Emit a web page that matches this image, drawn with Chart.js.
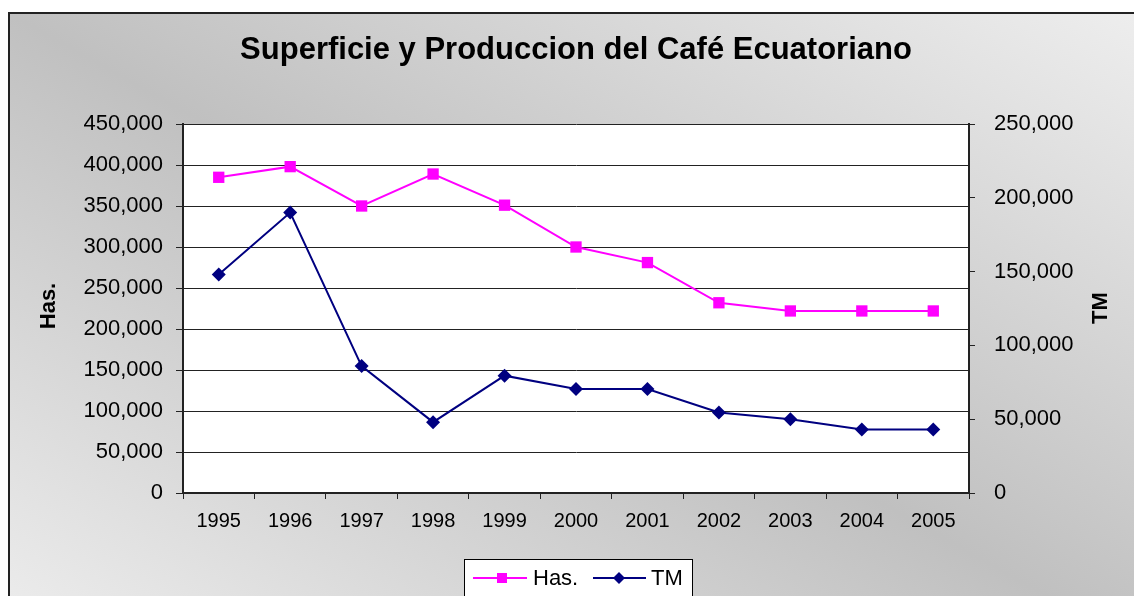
<!DOCTYPE html>
<html>
<head>
<meta charset="utf-8">
<title>Superficie y Produccion del Café Ecuatoriano</title>
<script src="https://cdn.jsdelivr.net/npm/chart.js@4.4.0/dist/chart.umd.min.js"></script>
<style>
  html, body { margin: 0; padding: 0; background: #fff; overflow: hidden; }
  #frame {
    position: absolute; left: 8px; top: 12px; width: 1140px; height: 640px;
    border: 2px solid #222;
    background: linear-gradient(to top right, #efefef 0%, #c0c0c0 50%, #eeeeee 100%);
  }
  #wrap { position: absolute; left: 0; top: 0; width: 1134px; height: 596px; }
</style>
</head>
<body>
<div id="frame"></div>
<div id="wrap"><canvas id="cafeChart" width="1134" height="596"></canvas></div>
<script>
// Chart data
const years = ["1995", "1996", "1997", "1998", "1999", "2000", "2001", "2002", "2003", "2004", "2005"];
const hectareas = [385000, 398000, 350000, 389000, 351000, 300000, 281000, 232000, 222000, 222000, 222000];
const toneladas = [148000, 190000, 86000, 48000, 79500, 70500, 70500, 54500, 50000, 43000, 43000];
const hasTicks = [0, 50000, 100000, 150000, 200000, 250000, 300000, 350000, 400000, 450000];
const tmTicks = [0, 50000, 100000, 150000, 200000, 250000];

const FONT = "'Liberation Sans', Arial, sans-serif";
const INK = "#222";

function fmt(v) {
  return Number(v).toLocaleString("en-US");
}

// white plot area, axis titles and the boxed legend
const decor = {
  id: "decor",
  beforeDraw(chart) {
    const { ctx, chartArea } = chart;
    ctx.save();
    ctx.fillStyle = "#fff";
    ctx.fillRect(chartArea.left, chartArea.top, chartArea.right - chartArea.left, chartArea.bottom - chartArea.top);
    ctx.restore();
  },
  afterDraw(chart) {
    const ctx = chart.ctx;
    ctx.save();
    ctx.fillStyle = "#000";
    ctx.font = "bold 22px " + FONT;
    ctx.textAlign = "center";
    ctx.textBaseline = "middle";
    ctx.save();
    ctx.translate(49, 306);
    ctx.rotate(-Math.PI / 2);
    ctx.fillText("Has.", 0, 0);
    ctx.restore();
    ctx.save();
    ctx.translate(1101, 308);
    ctx.rotate(-Math.PI / 2);
    ctx.fillText("TM", 0, 0);
    ctx.restore();

    // legend
    const lx = 464, ly = 559, lw = 228, lh = 50;
    ctx.fillStyle = "#fff";
    ctx.fillRect(lx, ly, lw, lh);
    ctx.strokeStyle = "#000";
    ctx.lineWidth = 1;
    ctx.strokeRect(lx + 0.5, ly + 0.5, lw, lh);

    const cy = 578;
    ctx.lineWidth = 2;
    ctx.strokeStyle = "#ff00ff";
    ctx.beginPath();
    ctx.moveTo(473, cy);
    ctx.lineTo(527, cy);
    ctx.stroke();
    ctx.fillStyle = "#ff00ff";
    ctx.fillRect(497, cy - 5, 10, 10);

    ctx.strokeStyle = "#000080";
    ctx.beginPath();
    ctx.moveTo(593, cy);
    ctx.lineTo(646, cy);
    ctx.stroke();
    ctx.fillStyle = "#000080";
    ctx.beginPath();
    ctx.moveTo(619, cy - 6);
    ctx.lineTo(625, cy);
    ctx.lineTo(619, cy + 6);
    ctx.lineTo(613, cy);
    ctx.closePath();
    ctx.fill();

    ctx.fillStyle = "#000";
    ctx.font = "22px " + FONT;
    ctx.textAlign = "left";
    ctx.fillText("Has.", 533, cy + 1);
    ctx.fillText("TM", 651, cy + 1);
    ctx.restore();
  },
};

const chart = new Chart(document.getElementById("cafeChart"), {
  type: "line",
  data: {
    labels: years,
    datasets: [
      {
        label: "Has.",
        data: hectareas,
        yAxisID: "y",
        borderColor: "#ff00ff",
        backgroundColor: "#ff00ff",
        borderWidth: 2,
        pointStyle: "rect",
        pointRadius: 8,
        pointBorderWidth: 0,
        tension: 0,
      },
      {
        label: "TM",
        data: toneladas,
        yAxisID: "y1",
        borderColor: "#000080",
        backgroundColor: "#000080",
        borderWidth: 2,
        pointStyle: "rectRot",
        pointRadius: 7,
        pointBorderWidth: 0,
        tension: 0,
      },
    ],
  },
  options: {
    responsive: false,
    animation: false,
    layout: { padding: 0 },
    plugins: {
      legend: { display: false },
      tooltip: { enabled: false },
      title: {
        display: true,
        fullSize: false,
        text: "Superficie y Produccion del Café Ecuatoriano",
        color: "#000",
        font: { family: FONT, size: 31, weight: "bold" },
        padding: { top: 31.4, bottom: 55.4 },
      },
    },
    scales: {
      x: {
        offset: true,
        grid: { offset: true, drawOnChartArea: false, color: INK, tickLength: 6 },
        border: { color: INK, width: 2 },
        ticks: { color: "#000", font: { family: FONT, size: 20 }, padding: 10, maxRotation: 0, autoSkip: false },
        afterFit: (s) => { s.height = 103; },
      },
      y: {
        position: "left",
        min: 0,
        max: 450000,
        afterBuildTicks: (s) => { s.ticks = hasTicks.map((v) => ({ value: v })); },
        grid: { color: INK, lineWidth: 1, tickLength: 7 },
        border: { color: INK, width: 2 },
        ticks: { color: "#000", font: { family: FONT, size: 22 }, padding: 13, callback: fmt },
        afterFit: (s) => { s.width = 183; },
      },
      y1: {
        position: "right",
        min: 0,
        max: 250000,
        afterBuildTicks: (s) => { s.ticks = tmTicks.map((v) => ({ value: v })); },
        grid: { drawOnChartArea: false, color: INK, tickLength: 6 },
        border: { color: INK, width: 2 },
        ticks: { color: "#000", font: { family: FONT, size: 22 }, padding: 19, callback: fmt },
        afterFit: (s) => { s.width = 165; },
      },
    },
  },
  plugins: [decor],
});
</script>
</body>
</html>
